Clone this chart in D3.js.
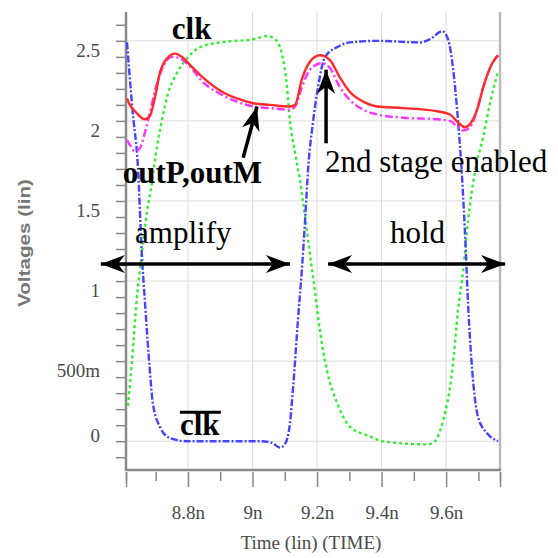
<!DOCTYPE html>
<html>
<head>
<meta charset="utf-8">
<script src="https://cdn.jsdelivr.net/npm/d3@7"></script>
<style>
  body { margin: 0; background: #fff; }
  svg { display: block; }
</style>
</head>
<body>
<div id="painting"></div>
<script>
// time in ns, voltages in V
var clkbT = [8.611, 8.629, 8.645, 8.657, 8.667, 8.682, 8.691, 8.713, 8.744, 8.797, 8.9, 9.023, 9.06, 9.085, 9.1, 9.116, 9.126, 9.141, 9.153, 9.163, 9.172, 9.188, 9.203, 9.225, 9.262, 9.302, 9.386, 9.519, 9.55, 9.588, 9.606, 9.622, 9.637, 9.65, 9.659, 9.668, 9.681, 9.699, 9.727, 9.761];
var clkbV = [2.49, 2.05, 1.71, 1.17, 0.86, 0.44, 0.24, 0.09, 0.02, 0.0, 0.0, 0.0, -0.01, -0.04, -0.02, 0.11, 0.34, 0.76, 1.07, 1.38, 1.69, 2.0, 2.21, 2.40, 2.46, 2.49, 2.5, 2.49, 2.51, 2.56, 2.51, 2.32, 2.0, 1.63, 1.28, 0.86, 0.44, 0.15, 0.05, 0.0];

var clkT = [8.614, 8.626, 8.642, 8.657, 8.673, 8.688, 8.704, 8.719, 8.738, 8.766, 8.797, 8.837, 8.899, 9.002, 9.048, 9.070, 9.091, 9.107, 9.116, 9.132, 9.147, 9.157, 9.178, 9.194, 9.209, 9.231, 9.262, 9.302, 9.364, 9.402, 9.541, 9.560, 9.591, 9.619, 9.637, 9.653, 9.668, 9.690, 9.715, 9.736, 9.761];
var clkV = [0.22, 0.49, 0.90, 1.17, 1.43, 1.61, 1.84, 2.0, 2.17, 2.3, 2.39, 2.46, 2.49, 2.51, 2.53, 2.51, 2.42, 2.21, 2.0, 1.8, 1.63, 1.49, 1.17, 0.93, 0.69, 0.44, 0.24, 0.09, 0.03, 0.0, -0.02, -0.01, 0.13, 0.44, 0.82, 1.07, 1.38, 1.69, 1.9, 2.11, 2.31];

var outPT = [8.611, 8.620, 8.636, 8.667, 8.682, 8.698, 8.713, 8.735, 8.760, 8.781, 8.806, 8.847, 8.899, 8.952, 9.002, 9.054, 9.116, 9.132, 9.153, 9.178, 9.209, 9.240, 9.271, 9.302, 9.343, 9.386, 9.467, 9.572, 9.612, 9.637, 9.659, 9.674, 9.696, 9.715, 9.743, 9.761];
var outPV = [2.14, 2.10, 2.06, 2.01, 2.03, 2.15, 2.30, 2.39, 2.42, 2.40, 2.35, 2.27, 2.19, 2.14, 2.11, 2.10, 2.09, 2.10, 2.26, 2.37, 2.41, 2.38, 2.27, 2.18, 2.12, 2.09, 2.08, 2.06, 2.04, 1.99, 1.96, 1.98, 2.07, 2.21, 2.36, 2.41];

var outMT = [8.611, 8.620, 8.636, 8.651, 8.667, 8.682, 8.698, 8.719, 8.750, 8.775, 8.806, 8.847, 8.899, 8.952, 9.002, 9.054, 9.116, 9.132, 9.153, 9.178, 9.215, 9.240, 9.271, 9.302, 9.343, 9.386, 9.467, 9.572, 9.612, 9.637, 9.653, 9.674, 9.696, 9.715, 9.743, 9.761];
var outMV = [1.88, 1.85, 1.81, 1.83, 1.93, 2.05, 2.19, 2.32, 2.40, 2.39, 2.34, 2.24, 2.17, 2.12, 2.09, 2.08, 2.07, 2.09, 2.21, 2.32, 2.36, 2.33, 2.21, 2.13, 2.07, 2.04, 2.02, 2.01, 2.00, 1.96, 1.94, 1.96, 2.07, 2.21, 2.36, 2.41];

var yTicks = [0, 0.5, 1, 1.5, 2, 2.5];
var yTickLabels = ["0", "500m", "1", "1.5", "2", "2.5"];
var xTicks = [8.8, 9.0, 9.2, 9.4, 9.6];
var xTickLabels = ["8.8n", "9n", "9.2n", "9.4n", "9.6n"];

var tMin = 8.608, tMax = 9.767;
var vMin = -0.18, vMax = 2.68;

var SERIF = "'Liberation Serif', 'Times New Roman', serif";
var SANS = "'Liberation Sans', Arial, sans-serif";

var svg = d3.select("#painting").append("svg")
  .attr("width", 558).attr("height", 558);

var x = d3.scaleLinear().domain([tMin, tMax]).range([126, 500]);
var y = d3.scaleLinear().domain([vMin, vMax]).range([470, 12]);

// grid
var grid = svg.append("g").attr("stroke", "#dcdcdc").attr("stroke-width", 1);
grid.selectAll("line.h").data(yTicks).enter().append("line")
  .attr("x1", x(tMin)).attr("x2", x(tMax))
  .attr("y1", function(d){ return y(d); }).attr("y2", function(d){ return y(d); });
grid.selectAll("line.v").data(xTicks).enter().append("line")
  .attr("y1", y(vMax)).attr("y2", y(vMin))
  .attr("x1", function(d){ return x(d); }).attr("x2", function(d){ return x(d); });

// frame
svg.append("line").attr("x1", x(tMax)).attr("x2", x(tMax)).attr("y1", y(vMax)).attr("y2", y(vMin))
  .attr("stroke", "#bbb").attr("stroke-width", 2.5);
svg.append("line").attr("x1", x(tMin)).attr("x2", x(tMin)).attr("y1", y(vMax)).attr("y2", y(vMin) + 1)
  .attr("stroke", "#8a8a8a").attr("stroke-width", 2.5);
svg.append("line").attr("x1", x(tMin) - 1).attr("x2", x(tMax) + 1).attr("y1", y(vMin)).attr("y2", y(vMin))
  .attr("stroke", "#8a8a8a").attr("stroke-width", 2.5);

// y minor ticks
var yMinor = d3.range(-1, 27).map(function(i){ return i / 10; });
svg.append("g").attr("transform", "translate(" + (x(tMin) - 1) + ",0)")
  .call(d3.axisLeft(y).tickValues(yMinor).tickSize(9).tickFormat(""))
  .call(function(g){ g.select(".domain").remove(); g.selectAll("line").attr("stroke", "#888").attr("stroke-width", 1.5); });

// y labels
var yAx = svg.append("g").attr("transform", "translate(" + (x(tMin) - 1) + ",0)")
  .call(d3.axisLeft(y).tickValues(yTicks).tickSize(0).tickPadding(25)
    .tickFormat(function(d, i){ return yTickLabels[i]; }));
yAx.select(".domain").remove();
yAx.selectAll("text")
  .style("font-family", SERIF).style("font-size", "19px").attr("fill", "#4a4a4a")
  .attr("dy", function(d){ return d === 0 ? "0.0em" : "0.8em"; });

// x ticks
var xMinor = [tMin, 8.7, 8.9, 9.1, 9.3, 9.5, 9.7, tMax];
svg.append("g").attr("transform", "translate(0," + (y(vMin) + 2) + ")")
  .call(d3.axisBottom(x).tickValues(xMinor).tickSize(9).tickFormat(""))
  .call(function(g){ g.select(".domain").remove(); g.selectAll("line").attr("stroke", "#888").attr("stroke-width", 1.5); });
svg.append("g").attr("transform", "translate(0," + (y(vMin) + 2) + ")")
  .call(d3.axisBottom(x).tickValues([tMin, tMax]).tickSize(15).tickFormat(""))
  .call(function(g){ g.select(".domain").remove(); g.selectAll("line").attr("stroke", "#888").attr("stroke-width", 1.5); });
var xAx = svg.append("g").attr("transform", "translate(0," + (y(vMin) + 2) + ")")
  .call(d3.axisBottom(x).tickValues(xTicks).tickSize(15).tickPadding(19)
    .tickFormat(function(d, i){ return xTickLabels[i]; }));
xAx.select(".domain").remove();
xAx.selectAll("line").attr("stroke", "#888").attr("stroke-width", 1.5);
xAx.selectAll("text")
  .style("font-family", SERIF).style("font-size", "19px").attr("fill", "#4a4a4a");

// axis titles
svg.append("text").attr("x", 311).attr("y", 549).attr("text-anchor", "middle")
  .style("font-family", SERIF).style("font-size", "19px").attr("fill", "#4a4a4a")
  .text("Time (lin) (TIME)");
svg.append("text").attr("transform", "translate(30,243) rotate(-90)").attr("text-anchor", "middle")
  .style("font-family", SANS).style("font-weight", "bold").style("font-size", "17px").attr("fill", "#777")
  .attr("textLength", 128).attr("lengthAdjust", "spacingAndGlyphs")
  .text("Voltages (lin)");

// curves
var line = d3.line()
  .x(function(d){ return x(d[0]); })
  .y(function(d){ return y(d[1]); })
  .curve(d3.curveMonotoneX);

function series(ts, vs) { return ts.map(function(t, i){ return [t, vs[i]]; }); }

var plot = svg.append("g").attr("fill", "none").attr("stroke-width", 2.4);
plot.append("path").attr("d", line(series(clkT, clkV)))
  .attr("stroke", "#33ee33").attr("stroke-dasharray", "3,3");
plot.append("path").attr("d", line(series(clkbT, clkbV)))
  .attr("stroke", "#4444ff").attr("stroke-dasharray", "7,2,2,2");
plot.append("path").attr("d", line(series(outMT, outMV)))
  .attr("stroke", "#ff33ff").attr("stroke-dasharray", "8,3,2,3");
plot.append("path").attr("d", line(series(outPT, outPV)))
  .attr("stroke", "#ff2a2a");

// annotations
var defs = svg.append("defs");
defs.append("marker").attr("id", "head").attr("markerUnits", "userSpaceOnUse")
  .attr("viewBox", "-26 -10 28 20").attr("refX", 0).attr("refY", 0)
  .attr("markerWidth", 28).attr("markerHeight", 20).attr("orient", "auto-start-reverse")
  .append("path").attr("d", "M0,0 L-24,-9 L-17,0 L-24,9 Z").attr("fill", "#000");

function arrow(t1, v1, t2, v2, both) {
  var l = svg.append("line")
    .attr("x1", x(t1)).attr("y1", y(v1)).attr("x2", x(t2)).attr("y2", y(v2))
    .attr("stroke", "#000").attr("stroke-width", 3.5)
    .attr("marker-end", "url(#head)");
  if (both) l.attr("marker-start", "url(#head)");
}
function label(t, v, txt, bold) {
  return svg.append("text").attr("x", x(t)).attr("y", y(v))
    .style("font-family", SERIF).style("font-size", "31px")
    .style("font-weight", bold ? "bold" : "normal").attr("fill", "#000").text(txt);
}

arrow(8.530, 1.106, 9.116, 1.106, true);
arrow(9.234, 1.106, 9.783, 1.106, true);
arrow(9.228, 1.86, 9.228, 2.32, false);
arrow(8.971, 1.77, 9.014, 2.09, false);

label(8.636, 1.24, "amplify", false);
label(9.426, 1.24, "hold", false);
label(9.225, 1.68, "2nd stage enabled", false);
label(8.598, 1.61, "outP,outM", true);
label(8.750, 2.51, "clk", true);
label(8.775, 0.04, "clk", true);
svg.append("line").attr("x1", x(8.775)).attr("x2", x(8.775) + 41)
  .attr("y1", y(0.18)).attr("y2", y(0.18)).attr("stroke", "#000").attr("stroke-width", 3);
</script>
</body>
</html>
